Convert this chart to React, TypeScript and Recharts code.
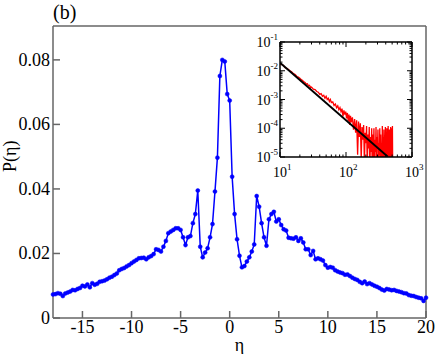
import { Line, LineChart, ReferenceLine, XAxis, YAxis } from "recharts";

const FONT = '"Liberation Serif", "Times New Roman", serif';
const AXIS = "#666";

// main panel: P(eta)
const ETA = [
  -18, -17.75, -17.5, -17.25, -17, -16.75, -16.5, -16.25, -16, -15.75,
  -15.5, -15.25, -15, -14.75, -14.5, -14.25, -14, -13.75, -13.5, -13.25,
  -13, -12.75, -12.5, -12.25, -12, -11.75, -11.5, -11.25, -11, -10.75,
  -10.5, -10.25, -10, -9.75, -9.5, -9.25, -9, -8.75, -8.5, -8.25,
  -8, -7.75, -7.5, -7.25, -7, -6.75, -6.5, -6.25, -6, -5.75,
  -5.5, -5.25, -5, -4.75, -4.5, -4.25, -4, -3.75, -3.5, -3.25,
  -3, -2.75, -2.5, -2.25, -2, -1.75, -1.5, -1.25, -1, -0.75,
  -0.5, -0.25, 0, 0.25, 0.5, 0.75, 1, 1.25, 1.5, 1.75,
  2, 2.25, 2.5, 2.75, 3, 3.25, 3.5, 3.75, 4, 4.25,
  4.5, 4.75, 5, 5.25, 5.5, 5.75, 6, 6.25, 6.5, 6.75,
  7, 7.25, 7.5, 7.75, 8, 8.25, 8.5, 8.75, 9, 9.25,
  9.5, 9.75, 10, 10.25, 10.5, 10.75, 11, 11.25, 11.5, 11.75,
  12, 12.25, 12.5, 12.75, 13, 13.25, 13.5, 13.75, 14, 14.25,
  14.5, 14.75, 15, 15.25, 15.5, 15.75, 16, 16.25, 16.5, 16.75,
  17, 17.25, 17.5, 17.75, 18, 18.25, 18.5, 18.75, 19, 19.25,
  19.5, 19.75, 20,
];
const P_ETA = [
  0.0073, 0.0074, 0.0077, 0.0075, 0.0068, 0.0076, 0.0079, 0.0082, 0.0087, 0.0086,
  0.009, 0.0093, 0.01, 0.0098, 0.0104, 0.0095, 0.0108, 0.0103, 0.0106, 0.0112,
  0.0114, 0.0116, 0.012, 0.0125, 0.0128, 0.0133, 0.0138, 0.0148, 0.0152, 0.0155,
  0.016, 0.0164, 0.017, 0.0175, 0.018, 0.0185, 0.0186, 0.0187, 0.0182, 0.0188,
  0.0192, 0.0198, 0.0213, 0.0211, 0.0206, 0.0221, 0.0239, 0.0263, 0.0268, 0.0273,
  0.0278, 0.0278, 0.0273, 0.025, 0.0226, 0.025, 0.0254, 0.0294, 0.0322, 0.0395,
  0.0221, 0.0188, 0.0203, 0.0216, 0.025, 0.0291, 0.0392, 0.0497, 0.075, 0.08,
  0.0795, 0.0694, 0.0674, 0.0438, 0.0322, 0.0244, 0.0193, 0.0157, 0.0161, 0.0175,
  0.0188, 0.0206, 0.0228, 0.0378, 0.0345, 0.0294, 0.025, 0.0224, 0.0306, 0.0322,
  0.0329, 0.0299, 0.0306, 0.0288, 0.0275, 0.0271, 0.0249, 0.0247, 0.0246, 0.025,
  0.0239, 0.0247, 0.0234, 0.0213, 0.0213, 0.0195, 0.0208, 0.0182, 0.0185, 0.0182,
  0.0178, 0.0164, 0.0156, 0.0158, 0.0156, 0.0148, 0.0144, 0.0141, 0.0139, 0.0134,
  0.0135, 0.013, 0.0125, 0.0121, 0.0118, 0.0112, 0.0108, 0.0113, 0.0105, 0.0108,
  0.0104, 0.01, 0.0097, 0.0093, 0.0088, 0.0085, 0.009, 0.0088, 0.0086, 0.0087,
  0.0084, 0.0082, 0.008, 0.0077, 0.0076, 0.0071, 0.0069, 0.0068, 0.0065, 0.0063,
  0.0061, 0.0053, 0.0063,
];
const X_TICKS = [-15, -10, -5, 0, 5, 10, 15, 20];
const Y_TICKS = [0, 0.02, 0.04, 0.06, 0.08];
const X_MIN = -18;
const X_MAX = 20;
const Y_MAX = 0.0905;

// inset: log-log distribution and power-law fit
const INSET_S = [
  10, 11, 12, 13, 14, 15, 16, 17, 18, 19, 20, 21, 22, 23, 24, 25, 26, 27, 28, 29,
  30, 32, 34, 36, 38, 40, 42, 44, 46, 48, 50, 52, 54, 56, 58, 60, 63, 66, 69, 72,
  75, 78, 81, 84, 87, 90, 93, 96, 99, 102, 105, 108, 111, 114, 117, 120, 125, 130, 135, 140,
  145, 150, 155, 160, 165, 170, 175, 180, 185, 190, 195, 200, 205, 210, 215, 220, 225, 230, 235, 240,
  245, 250, 255, 260, 265, 270, 275, 280, 285, 290, 295, 300, 305, 310, 315, 320, 325, 330, 335, 340,
  345, 350, 355, 360, 365, 370, 375, 380, 385, 390, 395, 400, 405, 410, 415, 420, 425, 430, 435, 440,
  445, 450, 455, 460, 465, 470, 475, 480, 485, 490, 495, 500, 505, 510,
];
const INSET_P = [
  0.017, 0.016, 0.0128, 0.0118, 0.0102, 0.0092, 0.0079, 0.0074, 0.0063, 0.006,
  0.0055, 0.0049, 0.0046, 0.0041, 0.0039, 0.0034, 0.0035, 0.003, 0.0031, 0.0026,
  0.0027, 0.0023, 0.0022, 0.0019, 0.0018, 0.0015, 0.0016, 0.0013, 0.0014, 0.0011,
  0.0013, 0.001, 0.0011, 0.00085, 0.001, 0.00078, 0.00082, 0.00062, 0.0007, 0.00052,
  0.0006, 0.00044, 0.00052, 0.00038, 0.00048, 0.00026, 0.00042, 0.0003, 0.00038, 0.00022,
  0.00034, 0.00018, 0.0003, 0.00013, 0.00027, 0.00016, 0.00024, 0.00009, 0.00021, 0.00007,
  0.00019, 0.000012, 0.00017, 0.00005, 0.00015, 0.000008, 0.00011, 0.00004, 0.00013, 0.000006,
  0.00007, 0.00003, 0.00012, 0.000005, 0.00006, 0.00002, 0.00011, 0.000004, 0.00005, 0.000015,
  0.0001, 0.000003, 0.00006, 0.00001, 0.0001, 0.000004, 0.00004, 0.000015, 0.00011, 0.000003,
  0.00005, 0.00002, 0.00009, 0.000005, 0.00003, 0.000012, 0.0001, 0.000003, 0.00006, 0.00001,
  0.00003, 0.000004, 0.00012, 0.000008, 0.00005, 0.000003, 0.00009, 0.000015, 0.00004, 0.000003,
  0.00011, 0.00001, 0.00003, 0.000004, 0.0001, 0.000008, 0.00005, 0.000003, 0.00012, 0.000012,
  0.00004, 0.000003, 0.00009, 0.00001, 0.00006, 0.000003, 0.00011, 0.000015, 0.00004, 0.000003,
  0.0001, 0.000008, 0.00012, 0.000004,
];
const FIT_S = [10, 430];
const FIT_P = [0.019, 0.0000103];

const INSET_X_MAJOR = [10, 100, 1000];
const INSET_X_MINOR = [20, 30, 40, 50, 60, 70, 80, 90, 200, 300, 400, 500, 600, 700, 800, 900];
const INSET_Y_MAJOR = [0.00001, 0.0001, 0.001, 0.01, 0.1];
const INSET_Y_MINOR = [
  0.00002, 0.00003, 0.00004, 0.00005, 0.00006, 0.00007, 0.00008, 0.00009,
  0.0002, 0.0003, 0.0004, 0.0005, 0.0006, 0.0007, 0.0008, 0.0009,
  0.002, 0.003, 0.004, 0.005, 0.006, 0.007, 0.008, 0.009,
  0.02, 0.03, 0.04, 0.05, 0.06, 0.07, 0.08, 0.09,
];

const mainData = ETA.map((eta, i) => ({ eta, p: P_ETA[i] }));
const insetData = INSET_S.map((s, i) => ({ s, p: INSET_P[i] }));
const fitData = FIT_S.map((s, i) => ({ s, p: FIT_P[i] }));

// inset plot box size (px)
const IN_W = 132;
const IN_H = 115;

function MainYTick({ x, y, payload }: any) {
  const v = payload.value;
  return (
    <g>
      <line x1={x + 3} x2={x + 10} y1={y} y2={y} stroke={AXIS} strokeWidth={1.5} />
      <text x={x} y={y} dy={6} textAnchor="end" fontSize={18} fontFamily={FONT} fill="#000">
        {v === 0 ? "0" : v.toFixed(2)}
      </text>
    </g>
  );
}

function MainXTick({ x, y, payload }: any) {
  return (
    <g>
      <line x1={x} x2={x} y1={y} y2={y - 7} stroke={AXIS} strokeWidth={1.5} />
      <text x={x} y={y + 15} textAnchor="middle" fontSize={18} fontFamily={FONT} fill="#000">
        {payload.value}
      </text>
    </g>
  );
}

function InsetYTick({ x, y, payload }: any) {
  const v = payload.value;
  const major = INSET_Y_MAJOR.includes(v);
  const len = major ? 5 : 2.5;
  const x0 = x + 2;
  return (
    <g>
      <line x1={x0} x2={x0 + len} y1={y} y2={y} stroke="#000" strokeWidth={1} />
      <line x1={x0 + IN_W} x2={x0 + IN_W - len} y1={y} y2={y} stroke="#000" strokeWidth={1} />
      {major && (
        <text x={x} y={y} dy={5} textAnchor="end" fontSize={14} fontFamily={FONT} fill="#000">
          10
          <tspan dy={-7} fontSize={9}>
            {Math.round(Math.log10(v))}
          </tspan>
        </text>
      )}
    </g>
  );
}

function InsetXTick({ x, y, payload }: any) {
  const v = payload.value;
  const major = INSET_X_MAJOR.includes(v);
  const len = major ? 5 : 2.5;
  return (
    <g>
      <line x1={x} x2={x} y1={y} y2={y - len} stroke="#000" strokeWidth={1} />
      <line x1={x} x2={x} y1={y - IN_H} y2={y - IN_H + len} stroke="#000" strokeWidth={1} />
      {major && (
        <g>
          <text x={x} y={y + 20} textAnchor="middle" fontSize={14} fontFamily={FONT} fill="#000">
            10
          </text>
          <text x={x + 7} y={y + 13} fontSize={9} fontFamily={FONT} fill="#000">
            {Math.round(Math.log10(v))}
          </text>
        </g>
      )}
    </g>
  );
}

export default function App() {
  return (
    <div style={{ position: "absolute", left: 0, top: 0, width: 436, height: 354, background: "#fff" }}>
      <LineChart width={436} height={354} data={mainData} margin={{ top: 26, right: 10, bottom: 0, left: 0 }}>
        <XAxis
          dataKey="eta"
          type="number"
          domain={[X_MIN, X_MAX]}
          ticks={X_TICKS}
          interval={0}
          height={36}
          tickSize={0}
          tickMargin={0}
          tickLine={false}
          axisLine={{ stroke: AXIS, strokeWidth: 1.5 }}
          tick={<MainXTick />}
          label={{ value: "η", position: "insideBottom", offset: 3, fontSize: 18, fontFamily: FONT, fill: "#000" }}
        />
        <YAxis
          type="number"
          domain={[0, Y_MAX]}
          ticks={Y_TICKS}
          interval={0}
          width={53}
          tickSize={0}
          tickMargin={3}
          tickLine={false}
          axisLine={{ stroke: AXIS, strokeWidth: 1.5 }}
          tick={<MainYTick />}
          label={{ value: "P(η)", angle: -90, position: "insideLeft", offset: 10, fontSize: 18, fontFamily: FONT, fill: "#000" }}
        />
        <ReferenceLine y={Y_MAX} stroke={AXIS} strokeWidth={1.5} />
        <ReferenceLine x={X_MAX} stroke={AXIS} strokeWidth={1.5} />
        <Line
          dataKey="p"
          stroke="#0000ff"
          strokeWidth={1.5}
          dot={{ r: 2, fill: "#0000ff", stroke: "#0000ff", strokeWidth: 0.5 }}
          isAnimationActive={false}
        />
      </LineChart>

      <div style={{ position: "absolute", left: 53, top: 2, fontFamily: FONT, fontSize: 20, lineHeight: "20px" }}>(b)</div>

      <div style={{ position: "absolute", left: 240, top: 30 }}>
        <LineChart width={192} height={156} margin={{ top: 12, right: 20, bottom: 0, left: 0 }}>
          <XAxis
            dataKey="s"
            type="number"
            scale="log"
            domain={[10, 1000]}
            allowDataOverflow
            ticks={[...INSET_X_MAJOR, ...INSET_X_MINOR]}
            interval={0}
            height={29}
            tickSize={0}
            tickMargin={0}
            tickLine={false}
            axisLine={{ stroke: "#000", strokeWidth: 1.5 }}
            tick={<InsetXTick />}
          />
          <YAxis
            type="number"
            scale="log"
            domain={[0.00001, 0.1]}
            allowDataOverflow
            ticks={[...INSET_Y_MAJOR, ...INSET_Y_MINOR]}
            interval={0}
            width={40}
            tickSize={0}
            tickMargin={2}
            tickLine={false}
            axisLine={{ stroke: "#000", strokeWidth: 1.5 }}
            tick={<InsetYTick />}
          />
          <ReferenceLine y={0.1} stroke="#000" strokeWidth={1.5} />
          <ReferenceLine x={1000} stroke="#000" strokeWidth={1.5} />
          <Line data={insetData} dataKey="p" stroke="#ff0000" strokeWidth={1.3} dot={false} isAnimationActive={false} />
          <Line data={fitData} dataKey="p" stroke="#000" strokeWidth={2} dot={false} isAnimationActive={false} />
        </LineChart>
      </div>
    </div>
  );
}
